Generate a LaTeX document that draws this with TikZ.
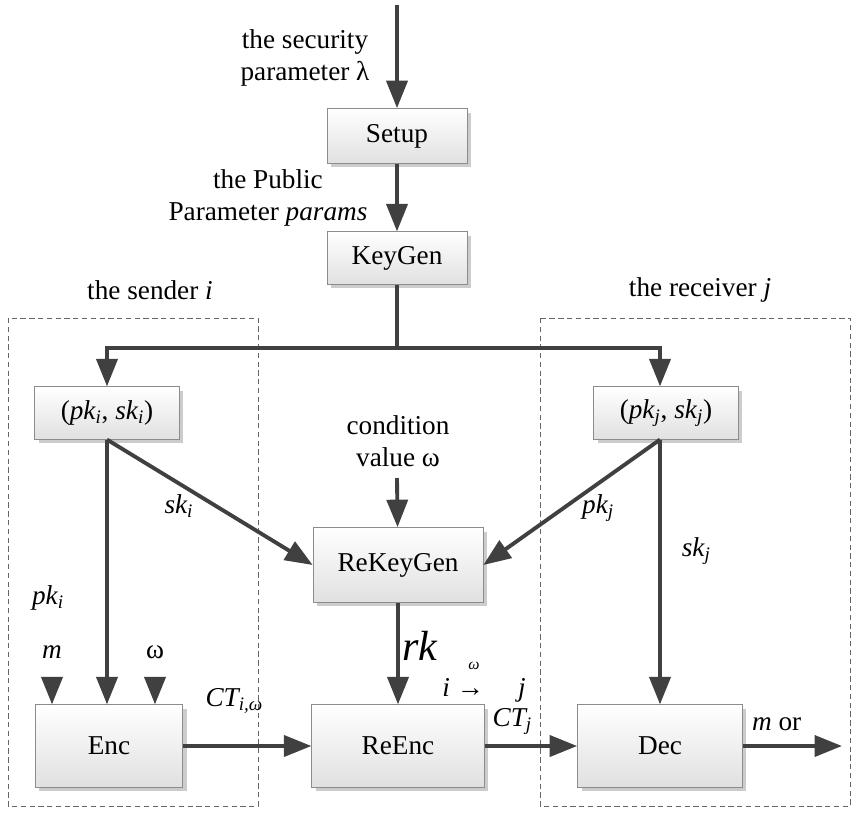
\documentclass[tikz,border=0pt]{standalone}
\usepackage{fontspec}
\setmainfont{Liberation Serif}
\usetikzlibrary{positioning,shadows,arrows.meta}
\tikzset {
    box/.style={
        top color=white,
        bottom color=black!12,
        draw=black!45,
        rectangle, % plain box
        drop shadow={shadow xshift=.08cm, shadow yshift=-.08cm, fill=black!20, opacity=1},
        align=center,
    },
    flow/.style={
        draw=black!75,
        line width=2.2pt,
        -{Triangle[length=.55cm, width=.42cm]},
    },
    group/.style={
        draw=black!60,
        densely dashed,
        thin,
    },
}

\begin{document}
\begin{tikzpicture}
[x=0.02cm, y=-0.02cm, font=\fontsize{15.5}{18}\selectfont]
\useasboundingbox (0,0) rectangle (855,814);

\draw[group] (8,318) rectangle (258,806);
\draw[group] (540,318) rectangle (850,806);
\node at (150,290) (sender) {the sender \textit{i}};
\node at (700,290) (receiver) {the receiver \textit{j}};

\node[box, minimum width=2.8cm, minimum height=1.1cm] at (397,136) (setup) {Setup};
\node[box, minimum width=2.8cm, minimum height=1.05cm] at (397,258) (keygen) {KeyGen};
\node[box, minimum width=2.9cm, minimum height=1.05cm] at (107,413) (keyi) {(\textit{pk\textsubscript{i}}, \textit{sk\textsubscript{i}})};
\node[box, minimum width=2.9cm, minimum height=1.05cm] at (666,413) (keyj) {(\textit{pk\textsubscript{j}}, \textit{sk\textsubscript{j}})};
\node[box, minimum width=3.4cm, minimum height=1.5cm] at (398,565) (rekeygen) {ReKeyGen};
\node[box, minimum width=2.95cm, minimum height=1.65cm] at (109,746) (enc) {Enc};
\node[box, minimum width=3.45cm, minimum height=1.65cm] at (398,746) (reenc) {ReEnc};
\node[box, minimum width=3.3cm, minimum height=1.65cm] at (660,746) (dec) {Dec};

\coordinate (lambda) at (397,5);
\coordinate (split) at (397,348);
\coordinate (spliti) at (107,348);
\coordinate (splitj) at (660,348);
\coordinate (cond) at (397,478);
\coordinate (min) at (52,678);
\coordinate (win) at (155,678);
\coordinate (out) at (842,746);

\node[align=center] at (305,58) (sec) {the security\\parameter λ};
\node[align=center] at (268,198) (pub) {the Public\\Parameter \textit{params}};
\node[align=center] at (398,441) (condtext) {condition\\value ω};
\node at (52,652) (mtext) {\textit{m}};
\node at (155,652) (wtext) {ω};

\draw[flow] (lambda) -- (setup);
\draw[flow] (setup) -- (keygen);
\draw[draw=black!75, line width=2.2pt] (keygen) -- (split);
\draw[flow] (split) -- (spliti) -- (keyi.north -| spliti);
\draw[flow] (split) -- (splitj) -- (keyj.north -| splitj);
\draw[flow] (keyi.south) -- (enc.north -| keyi.south);
\draw[flow] (keyi.south) -- node[pos=.35, below=2pt] {\textit{sk\textsubscript{i}}} (rekeygen.west);
\draw[flow] (keyj.south -| splitj) -- node[pos=.35, below=2pt] {\textit{pk\textsubscript{j}}} (rekeygen.east);
\draw[flow] (keyj.south -| splitj) -- node[pos=.42, right=8pt] {\textit{sk\textsubscript{j}}} (dec.north -| splitj);
\node at (48,598) (pki) {\textit{pk\textsubscript{i}}};
\draw[flow] (cond) -- (rekeygen);
\draw[flow] (rekeygen) -- node[pos=.42, right=-2pt, font=\fontsize{24}{26}\selectfont] {\textit{rk}} (reenc);
\node at (484,690) (arrowlbl) {\textit{i} → \quad\textit{j}};
\node[font=\fontsize{9}{10}\selectfont] at (474,666) (arrowomega) {\textit{ω}};
\draw[flow] (min) -- (min |- enc.north);
\draw[flow] (win) -- (win |- enc.north);
\draw[flow] (enc) -- node[pos=.4, above=14pt] {\textit{CT\textsubscript{i,ω}}} (reenc);
\draw[flow] (reenc) -- node[pos=.3, above=2pt] {\textit{CT\textsubscript{j}}} (dec);
\draw[flow] (dec) -- node[pos=.42, above=2pt] {\textit{m} or\textsubscript{⊥}} (out);
\end{tikzpicture}
\end{document}
